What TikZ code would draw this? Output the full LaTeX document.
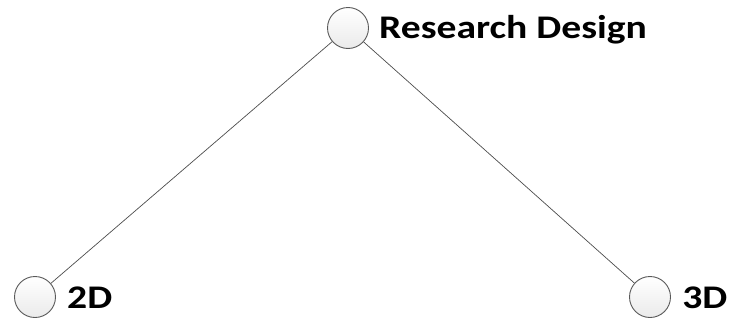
\documentclass[tikz,border=0pt]{standalone}
\usepackage{fontspec}
\setmainfont{Carlito}
\begin{document}
\begin{tikzpicture}[x=1pt,y=-1pt,
  dot/.style={circle,draw=black!65,line width=0.9pt,inner sep=0pt,minimum size=41pt,
    top color=white,bottom color=black!8},
  lbl/.style={font=\bfseries\fontsize{33}{36}\selectfont,anchor=base west,inner sep=0pt,
    xscale=1.2,transform shape},
  link/.style={draw=black!70,line width=0.7pt}]
\useasboundingbox (0,0) rectangle (730,324);
\node[dot] (top) at (348,28) {};
\node[dot] (left) at (35,297) {};
\node[dot] (right) at (650,297) {};
\node[lbl] (tl) at (379,38) {Research Design};
\node[lbl] (ll) at (67,308) {2D};
\node[lbl] (rl) at (682,308) {3D};
\draw[link] (top) -- (left);
\draw[link] (top) -- (right);
\end{tikzpicture}
\end{document}
